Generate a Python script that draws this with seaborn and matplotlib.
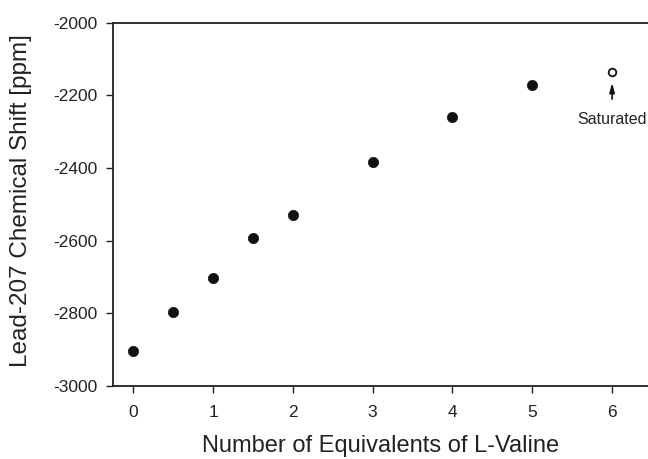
import matplotlib
matplotlib.use("Agg")
import matplotlib.pyplot as plt
import seaborn as sns
import pandas as pd

equivalents = [0, 0.5, 1, 1.5, 2, 3, 4, 5]
shift_ppm = [-2904, -2797, -2704, -2592, -2530, -2385, -2260, -2171]
saturated_x = [6]
saturated_y = [-2137]
x_ticks = [0, 1, 2, 3, 4, 5, 6]
y_ticks = [-3000, -2800, -2600, -2400, -2200, -2000]

sns.set_style("ticks")
plt.rcParams['font.family'] = ['Liberation Sans', 'DejaVu Sans']

fig = plt.figure(figsize=(6.48, 4.59), dpi=100)
ax = fig.add_axes([0.1748, 0.1597, 0.8252, 0.7908])

df = pd.DataFrame({"x": equivalents, "y": shift_ppm})
sat = pd.DataFrame({"x": saturated_x, "y": saturated_y})
sns.scatterplot(data=df, x="x", y="y", ax=ax, color="#111111", s=55,
                edgecolor="#111111", linewidth=0.5, zorder=3)
sns.scatterplot(data=sat, x="x", y="y", ax=ax, facecolor="white", s=30,
                edgecolor="#111111", linewidth=1.3, zorder=3)

ax.annotate("", xy=(6, -2158), xytext=(6, -2218),
            arrowprops=dict(arrowstyle="-|>,head_length=0.55,head_width=0.15",
                            color="#111111", lw=1.2))
ax.text(6, -2268, "Saturated", ha="center", va="center", fontsize=11.5, color="#222222")

ax.set_xlim(-0.25, 6.45)
ax.set_ylim(-3000, -2000)
ax.set_xticks(x_ticks)
ax.set_yticks(y_ticks)
ax.set_xticklabels([str(t) for t in x_ticks])
ax.set_yticklabels([str(t) for t in y_ticks])
ax.tick_params(axis="both", direction="out", length=5, width=1, labelsize=12.5,
               colors="#222222")
ax.tick_params(axis="y", pad=6)
ax.tick_params(axis="x", pad=9)
for side in ["left", "bottom", "top"]:
    ax.spines[side].set_color("#222222")
    ax.spines[side].set_linewidth(1.3)
ax.spines["right"].set_visible(False)

ax.set_xlabel("Number of Equivalents of L-Valine", fontsize=17, color="#222222", labelpad=11)
ax.set_ylabel("Lead-207 Chemical Shift [ppm]", fontsize=17.5, color="#222222")
ax.yaxis.set_label_coords(-0.152, 0.51)

fig.savefig("out.png", dpi=100)
